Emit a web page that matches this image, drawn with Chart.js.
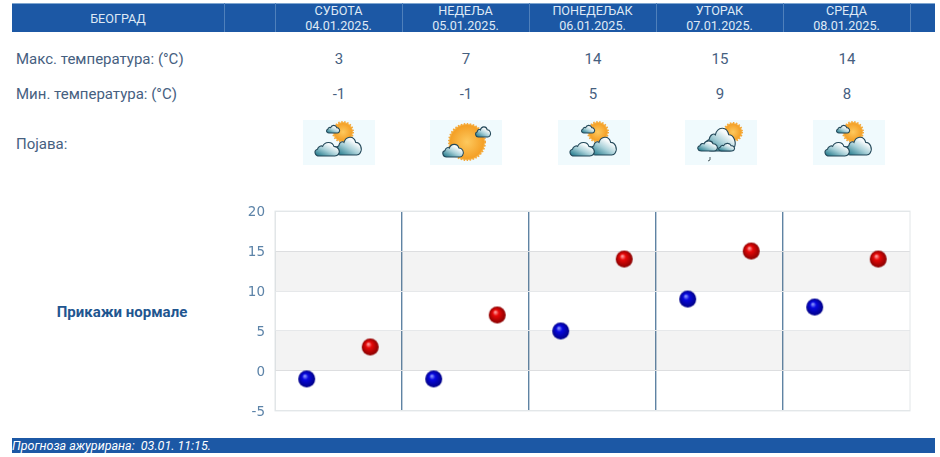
<!DOCTYPE html>
<html>
<head>
<meta charset="utf-8">
<script src="https://cdn.jsdelivr.net/npm/chart.js@4"></script>
<style>
  html, body { margin: 0; padding: 0; background: #fff; }
  body { width: 940px; height: 457px; position: relative; overflow: hidden; font-family: Roboto, sans-serif; color: #46607f; }
  .abs { position: absolute; white-space: nowrap; }
  #head { left: 12px; top: 3px; width: 923px; height: 29px; background: #1c58a5; border-top: 1px solid #7fa6d0; box-sizing: border-box; }
  .sep { position: absolute; top: 3px; width: 1px; height: 29px; background: #4f80bb; }
  .hcell { position: absolute; top: 4px; width: 127px; text-align: center; color: #dfe9f5; font-size: 12.6px; line-height: 14.5px; }
  .lbl { left: 16px; font-size: 15px; line-height: 18px; }
  .val { width: 127px; text-align: center; font-size: 15px; line-height: 18px; }
  .icon { position: absolute; top: 120px; width: 72px; height: 45px; }
  #normale { left: 22px; top: 304px; width: 200px; text-align: center; font-size: 15px; line-height: 17px; font-weight: bold; color: #1f5690; }
  #foot { left: 12px; top: 438px; width: 923px; height: 15px; background: #1c58a5; color: #fff; font-size: 12.5px; line-height: 15px; font-style: italic; }
  #wrap { position: absolute; left: 230px; top: 193px; width: 700px; height: 236px; }
</style>
</head>
<body>
<div id="head" class="abs"></div>
<div class="abs" style="left:12px;top:4px;width:212px;text-align:center;color:#dfe9f5;font-size:12.6px;line-height:29px">БЕОГРАД</div>
<div id="rows"></div>
<div class="abs lbl" style="top:50px">Макс. температура: (°C)</div>
<div class="abs lbl" style="top:85px">Мин. температура: (°C)</div>
<div class="abs lbl" style="top:135px">Појава:</div>
<div id="normale" class="abs">Прикажи нормале</div>
<div id="wrap"><canvas id="temps" width="700" height="236"></canvas></div>
<div id="foot" class="abs">Прогноза ажурирана:&nbsp; 03.01. 11:15.</div>

<script>
// podaci sa slike
const dani = ['СУБОТА', 'НЕДЕЉА', 'ПОНЕДЕЉАК', 'УТОРАК', 'СРЕДА'];
const datumi = ['04.01.2025.', '05.01.2025.', '06.01.2025.', '07.01.2025.', '08.01.2025.'];
const maxTemp = [3, 7, 14, 15, 14];
const minTemp = [-1, -1, 5, 9, 8];
const pojava = ['oblacno', 'suncano', 'oblacno', 'kisa', 'oblacno'];
const yTicks = [-5, 0, 5, 10, 15, 20];
const pozadinaTraka = [[0, 5], [10, 15]];

const prviStubac = 275;
const sirinaStupca = 127;
const ikoneLevo = [303, 430, 558, 685, 813];

// tabela iznad grafika
function napuniTabelu() {
  const rows = document.getElementById('rows');
  let html = '';
  [224, 275, 402, 529, 656, 783, 910].forEach(x => {
    html += '<div class="sep" style="left:' + x + 'px"></div>';
  });
  dani.forEach((dan, i) => {
    const left = prviStubac + i * sirinaStupca;
    html += '<div class="hcell" style="left:' + left + 'px">' + dan + '<br>' + datumi[i] + '</div>';
    html += '<div class="abs val" style="left:' + (left + 0.5) + 'px;top:50px">' + maxTemp[i] + '</div>';
    html += '<div class="abs val" style="left:' + (left + 0.5) + 'px;top:85px">' + minTemp[i] + '</div>';
    html += '<div class="icon" style="left:' + ikoneLevo[i] + 'px">' + ikonica(pojava[i], i) + '</div>';
  });
  rows.innerHTML = html;
}

// oblak je nacrtan u kutiji 30x20 pa se skalira
function oblak(x, y, sir, vis, id) {
  const d = 'M6 20C1 20-1 13 4 11.5C5 7 9 7 10 8C12 2 21 1 23 8C28 8 31 14 28 18C27 19.5 26 20 24 20Z';
  return '<path transform="translate(' + x + ' ' + y + ') scale(' + (sir / 30) + ' ' + (vis / 20) + ')" d="' + d + '" fill="url(#' + id + ')" stroke="#24495a" stroke-width="1.1" vector-effect="non-scaling-stroke"/>';
}

function sunce(cx, cy, r, id) {
  return '<circle cx="' + cx + '" cy="' + cy + '" r="' + (r + 1) + '" fill="#f7b648" stroke="#f4a83c" stroke-width="2" stroke-dasharray="1.5 1.5"/>' +
    '<circle cx="' + cx + '" cy="' + cy + '" r="' + r + '" fill="url(#' + id + ')"/>';
}

function ikonica(tip, i) {
  const g = 'gr' + i, s = 'su' + i;
  let sadrzaj = '';
  if (tip === 'oblacno') {
    sadrzaj = sunce(40, 12, 9, s) + oblak(23, 4, 14, 9, g) + oblak(32, 14, 27, 21, g) + oblak(11, 20, 26, 16, g);
  } else if (tip === 'suncano') {
    sadrzaj = sunce(37, 22, 17, s) + oblak(45, 5, 16, 12, g) + oblak(12, 22, 22, 15, g);
  } else {
    sadrzaj = sunce(48, 12, 8, s) + oblak(20, 4, 31, 27, g) + oblak(12, 19, 21, 12, g) + oblak(33, 22, 17, 9, g) +
      '<path d="M25 37v3l-2 1" fill="none" stroke="#4a5a60" stroke-width="1"/>';
  }
  return '<svg width="72" height="45" viewBox="0 0 72 45"><defs>' +
    '<linearGradient id="' + g + '" x1="0" y1="1" x2="0.75" y2="0.15"><stop offset="0" stop-color="#0f6d80"/><stop offset="0.55" stop-color="#a8d0d8"/><stop offset="0.9" stop-color="#f6fafb"/></linearGradient>' +
    '<radialGradient id="' + s + '"><stop offset="0" stop-color="#fdc95e"/><stop offset="1" stop-color="#f49f25"/></radialGradient>' +
    '</defs><rect width="72" height="45" fill="#f0fafd"/>' + sadrzaj + '</svg>';
}

// sjajna kuglica za tacke na grafiku
function kuglica(svetla, srednja, tamna) {
  const c = document.createElement('canvas');
  c.width = 19; c.height = 19;
  const ctx = c.getContext('2d');
  const gr = ctx.createRadialGradient(7.5, 6.5, 0.5, 9.5, 9.5, 9);
  gr.addColorStop(0, svetla);
  gr.addColorStop(0.3, srednja);
  gr.addColorStop(1, tamna);
  ctx.fillStyle = gr;
  ctx.beginPath();
  ctx.arc(9.5, 9.5, 8.5, 0, Math.PI * 2);
  ctx.fill();
  return c;
}

// sivi pojasevi iza tacaka
const trakePlugin = {
  id: 'trake',
  beforeDatasetsDraw(chart) {
    const { ctx, chartArea, scales } = chart;
    ctx.save();
    ctx.fillStyle = 'rgba(120,120,120,0.085)';
    pozadinaTraka.forEach(([od, doo]) => {
      const y1 = scales.y.getPixelForValue(doo);
      const y2 = scales.y.getPixelForValue(od);
      ctx.fillRect(chartArea.left, y1, chartArea.right - chartArea.left, y2 - y1);
    });
    ctx.restore();
  }
};

const ivicaPlugin = {
  id: 'ivica',
  afterDraw(chart) {
    const { ctx, chartArea } = chart;
    ctx.save();
    ctx.strokeStyle = '#e2e6e8';
    ctx.strokeRect(chartArea.left, chartArea.top, chartArea.right - chartArea.left, chartArea.bottom - chartArea.top);
    ctx.restore();
  }
};

// svaki dan ima dve pozicije na x osi: min pa max
const labele = [];
const minTacke = [];
const maxTacke = [];
dani.forEach((dan, i) => {
  labele.push(dan + ' min', dan + ' max');
  minTacke.push(minTemp[i], null);
  maxTacke.push(null, maxTemp[i]);
});

function LoadChart() {
  const ctx = document.getElementById('temps').getContext('2d');
  new Chart(ctx, {
    type: 'line',
    plugins: [trakePlugin, ivicaPlugin],
    data: {
      labels: labele,
      datasets: [
        { label: 'Мин', data: minTacke, showLine: false, pointStyle: kuglica('#8a96ff', '#0808e0', '#00007e') },
        { label: 'Макс', data: maxTacke, showLine: false, pointStyle: kuglica('#ff9f9f', '#e80808', '#800000') }
      ]
    },
    options: {
      responsive: false,
      animation: false,
      layout: { padding: { top: 0, right: 20, bottom: 0, left: 0 } },
      plugins: { legend: { display: false }, tooltip: { enabled: false } },
      scales: {
        x: {
          offset: true,
          border: { display: false },
          ticks: { display: false },
          grid: {
            offset: true,
            drawTicks: false,
            lineWidth: 1.4,
            color: c => (c.index % 2 === 0 && c.index > 0 && c.index < labele.length) ? '#5f83a3' : 'rgba(0,0,0,0)'
          }
        },
        y: {
          min: -5,
          max: 20,
          border: { color: '#e2e6e8' },
          afterFit(scale) { scale.width = 45; },
          afterBuildTicks(scale) { scale.ticks = yTicks.map(v => ({ value: v })); },
          ticks: { color: '#5c83a8', padding: 10, labelOffset: 1.5, font: { family: '"DejaVu Sans"', size: 13.5 } },
          grid: { color: '#e6e8ea', drawTicks: false }
        }
      }
    }
  });
}

napuniTabelu();
LoadChart();
</script>
</body>
</html>
